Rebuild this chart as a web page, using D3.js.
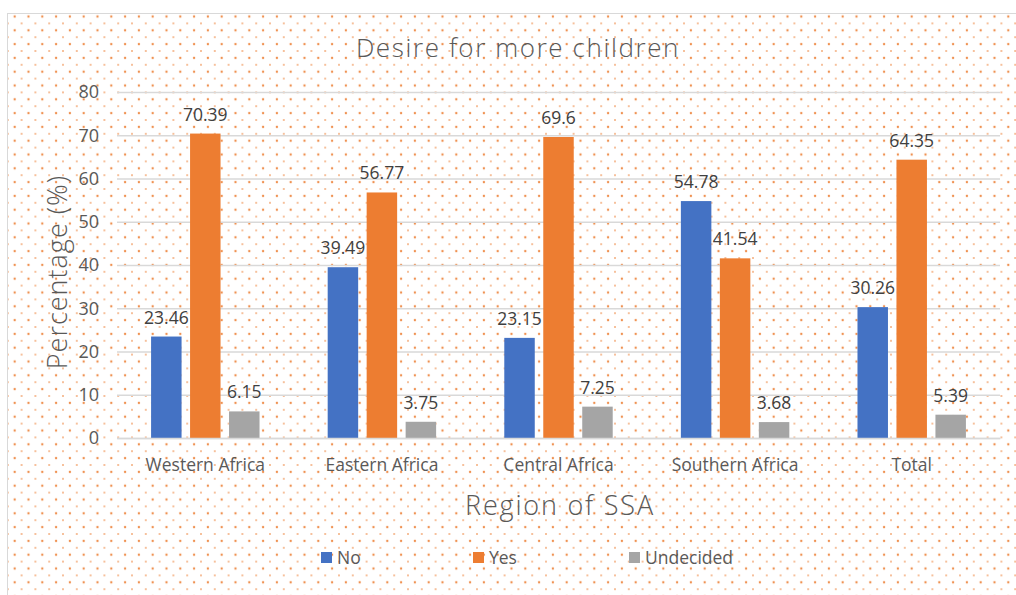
<!DOCTYPE html>
<html>
<head>
<meta charset="utf-8">
<script src="https://cdn.jsdelivr.net/npm/d3@7"></script>
<style>
  html, body { margin: 0; padding: 0; background: #fff; }
  svg { display: block; }
  text { font-family: "Open Sans", sans-serif; }
</style>
</head>
<body>
<svg id="chart" width="1016" height="595"></svg>
<script>
const categories = ["Western Africa", "Eastern Africa", "Central Africa", "Southern Africa", "Total"];
const seriesNames = ["No", "Yes", "Undecided"];
const noValues = [23.46, 39.49, 23.15, 54.78, 30.26];
const yesValues = [70.39, 56.77, 69.6, 41.54, 64.35];
const undecidedValues = [6.15, 3.75, 7.25, 3.68, 5.39];
const yTicks = [0, 10, 20, 30, 40, 50, 60, 70, 80];
const colors = ["#4472C4", "#ED7D31", "#A5A5A5"];
const titleText = "Desire for more children";
const yTitle = "Percentage (%)";
const xTitle = "Region of SSA";

const seriesValues = [noValues, yesValues, undecidedValues];
const data = categories.map((c, i) => ({
  cat: c,
  vals: seriesNames.map((s, j) => ({ key: s, value: seriesValues[j][i], color: colors[j] }))
}));

const svg = d3.select("#chart");
const W = 1016, H = 595;
const plot = { left: 117, right: 1000, top: 92, bottom: 438 };

// background pattern
const defs = svg.append("defs");
const pat = defs.append("pattern")
  .attr("id", "dots").attr("patternUnits", "userSpaceOnUse")
  .attr("x", 0.9).attr("y", 2.7).attr("width", 13.8).attr("height", 13.8);
pat.append("rect").attr("width", 13.8).attr("height", 13.8).attr("fill", "#fff");
[[0,0],[13.8,0],[0,13.8],[13.8,13.8]].forEach(p =>
  pat.append("circle").attr("cx", p[0]).attr("cy", p[1]).attr("r", 1.2).attr("fill", "#ED7D31").attr("opacity", 0.85));
pat.append("circle").attr("cx", 6.9).attr("cy", 6.9).attr("r", 1.0).attr("fill", "#ED7D31").attr("opacity", 0.65);

svg.append("rect").attr("x", 0).attr("y", 0).attr("width", W).attr("height", H).attr("fill", "#fff");
svg.append("rect").attr("x", 7.5).attr("y", 13.5).attr("width", 1012).attr("height", 600)
  .attr("fill", "url(#dots)").attr("stroke", "#D9D9D9").attr("stroke-width", 1);

const y = d3.scaleLinear().domain([0, 80]).range([plot.bottom, plot.top]);
const x0 = d3.scaleBand().domain(categories).range([plot.left, plot.right])
  .paddingInner(0.386).paddingOuter(0.193);
const x1 = d3.scaleBand().domain(seriesNames).range([0, x0.bandwidth()])
  .paddingInner(0.218).paddingOuter(0);

// gridlines
const yAxis = d3.axisLeft(y).tickValues(yTicks).tickSize(-(plot.right - plot.left)).tickPadding(18);
const gy = svg.append("g").attr("transform", `translate(${plot.left},0)`).call(yAxis);
gy.select(".domain").remove();
gy.selectAll(".tick line").attr("stroke", "#D9D9D9").attr("stroke-width", 1.5);
gy.selectAll(".tick text").attr("fill", "#595959").attr("font-size", 18)
  .attr("font-family", "Open Sans, sans-serif");

// bars
const groups = svg.append("g").selectAll("g").data(data).join("g")
  .attr("transform", d => `translate(${x0(d.cat)},0)`);
groups.selectAll("rect").data(d => d.vals).join("rect")
  .attr("x", d => x1(d.key)).attr("width", x1.bandwidth())
  .attr("y", d => y(d.value)).attr("height", d => y(0) - y(d.value))
  .attr("fill", d => d.color);
groups.selectAll("text.lbl").data(d => d.vals).join("text").attr("class", "lbl")
  .attr("x", d => x1(d.key) + x1.bandwidth() / 2)
  .attr("y", d => y(d.value) - 13)
  .attr("text-anchor", "middle").attr("font-size", 17.5).attr("fill", "#404040")
  .text(d => d.value);

// x axis
const xAxis = d3.axisBottom(x0).tickSize(0).tickPadding(21);
const gx = svg.append("g").attr("transform", `translate(0,${plot.bottom})`).call(xAxis);
gx.select(".domain").attr("stroke", "#D9D9D9").attr("stroke-width", 1.5);
gx.selectAll(".tick text").attr("fill", "#595959").attr("font-size", 17.5)
  .attr("font-family", "Open Sans, sans-serif");

// titles
svg.append("text").attr("x", 518).attr("y", 57).attr("text-anchor", "middle")
  .attr("font-size", 26).attr("letter-spacing", 1.6).attr("fill", "#595959").attr("font-weight", 300).text(titleText);
svg.append("text").attr("transform", "translate(67,272) rotate(-90)").attr("text-anchor", "middle")
  .attr("font-size", 27).attr("letter-spacing", 1).attr("fill", "#595959").attr("font-weight", 300).text(yTitle);
svg.append("text").attr("x", 560).attr("y", 515).attr("text-anchor", "middle")
  .attr("font-size", 27).attr("letter-spacing", 1.8).attr("fill", "#595959").attr("font-weight", 300).text(xTitle);

// legend
const legendX = [321, 473, 629];
const lg = svg.append("g").selectAll("g").data(seriesNames).join("g")
  .attr("transform", (d, i) => `translate(${legendX[i]},552)`);
lg.append("rect").attr("width", 11).attr("height", 11).attr("fill", (d, i) => colors[i]);
lg.append("text").attr("x", 16).attr("y", 11.5).attr("font-size", 17.5).attr("fill", "#595959").text(d => d);
</script>
</body>
</html>
